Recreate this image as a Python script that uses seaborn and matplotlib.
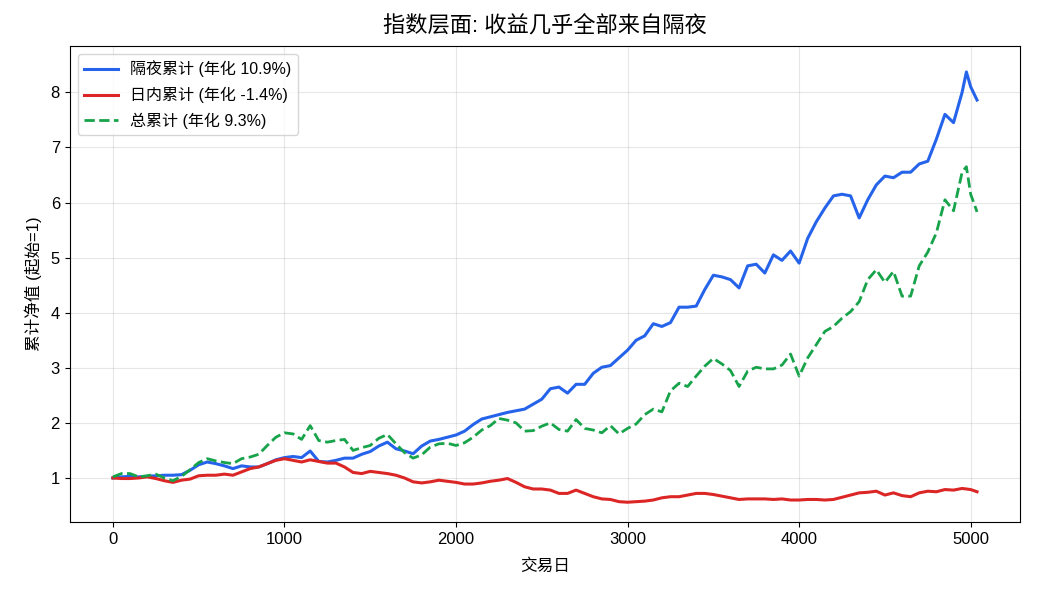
import matplotlib
matplotlib.use("Agg")
import matplotlib.pyplot as plt
import seaborn as sns
import pandas as pd

days = list(range(0, 4951, 50)) + [4975, 5000, 5037]

overnight = [
    1.00, 1.02, 1.03, 1.02, 1.03, 1.04, 1.05, 1.05, 1.06, 1.14,
    1.24, 1.29, 1.26, 1.22, 1.17, 1.22, 1.20, 1.20, 1.26, 1.33,
    1.37, 1.39, 1.37, 1.49, 1.30, 1.29, 1.32, 1.36, 1.36, 1.43,
    1.48, 1.58, 1.65, 1.53, 1.49, 1.44, 1.58, 1.67, 1.70, 1.74,
    1.78, 1.85, 1.97, 2.07, 2.11, 2.15, 2.19, 2.22, 2.25, 2.34,
    2.43, 2.62, 2.65, 2.54, 2.70, 2.70, 2.90, 3.01, 3.04, 3.18,
    3.32, 3.50, 3.58, 3.80, 3.75, 3.82, 4.10, 4.10, 4.12, 4.42,
    4.68, 4.65, 4.60, 4.45, 4.85, 4.88, 4.72, 5.05, 4.95, 5.12,
    4.90, 5.35, 5.65, 5.90, 6.12, 6.15, 6.12, 5.72, 6.05, 6.32,
    6.48, 6.45, 6.55, 6.55, 6.70, 6.75, 7.15, 7.60, 7.45, 8.00,
    8.37, 8.10, 7.86,
]

intraday = [
    1.00, 0.99, 0.99, 1.00, 1.02, 0.99, 0.95, 0.92, 0.96, 0.98,
    1.04, 1.05, 1.05, 1.07, 1.05, 1.11, 1.17, 1.20, 1.26, 1.32,
    1.35, 1.32, 1.29, 1.33, 1.30, 1.27, 1.27, 1.20, 1.10, 1.08,
    1.12, 1.10, 1.08, 1.05, 1.00, 0.93, 0.91, 0.93, 0.96, 0.94,
    0.92, 0.89, 0.89, 0.91, 0.94, 0.96, 0.99, 0.92, 0.84, 0.80,
    0.80, 0.78, 0.72, 0.72, 0.78, 0.72, 0.66, 0.62, 0.61, 0.57,
    0.56, 0.57, 0.58, 0.60, 0.64, 0.66, 0.66, 0.69, 0.72, 0.72,
    0.70, 0.67, 0.64, 0.61, 0.62, 0.62, 0.62, 0.61, 0.62, 0.60,
    0.60, 0.61, 0.61, 0.60, 0.61, 0.65, 0.69, 0.73, 0.74, 0.76,
    0.69, 0.73, 0.68, 0.66, 0.73, 0.76, 0.75, 0.79, 0.78, 0.81,
    0.80, 0.79, 0.75,
]

total = [
    1.02, 1.08, 1.08, 1.02, 1.04, 1.07, 1.00, 0.95, 1.03, 1.15,
    1.28, 1.35, 1.31, 1.28, 1.26, 1.35, 1.38, 1.43, 1.59, 1.74,
    1.82, 1.80, 1.70, 1.95, 1.68, 1.65, 1.68, 1.70, 1.50, 1.55,
    1.59, 1.72, 1.79, 1.62, 1.46, 1.36, 1.42, 1.56, 1.62, 1.63,
    1.59, 1.64, 1.74, 1.87, 1.95, 2.08, 2.05, 2.00, 1.85, 1.86,
    1.94, 2.00, 1.88, 1.85, 2.06, 1.90, 1.87, 1.82, 1.95, 1.80,
    1.90, 1.98, 2.15, 2.25, 2.20, 2.58, 2.72, 2.66, 2.85, 3.03,
    3.17, 3.07, 2.95, 2.66, 2.94, 3.01, 2.98, 2.98, 3.05, 3.25,
    2.85, 3.18, 3.42, 3.66, 3.75, 3.90, 4.02, 4.20, 4.60, 4.78,
    4.55, 4.75, 4.30, 4.30, 4.85, 5.10, 5.45, 6.05, 5.85, 6.55,
    6.65, 6.15, 5.83,
]

labels = ["隔夜累计 (年化 10.9%)", "日内累计 (年化 -1.4%)", "总累计 (年化 9.3%)"]

plt.rcParams['font.family'] = ['Liberation Sans', 'Noto Sans CJK SC']
plt.rcParams['axes.unicode_minus'] = False

df = pd.DataFrame({'day': days, 'overnight': overnight, 'intraday': intraday, 'total': total})

fig, ax = plt.subplots(figsize=(10.4, 5.98), dpi=100)
sns.lineplot(data=df, x='day', y='overnight', color='#2563eb', linewidth=2.2, label=labels[0], ax=ax)
sns.lineplot(data=df, x='day', y='intraday', color='#dc2626', linewidth=2.2, label=labels[1], ax=ax)
sns.lineplot(data=df, x='day', y='total', color='#16a34a', linewidth=2, linestyle='--', label=labels[2], ax=ax)

ax.set_title("指数层面: 收益几乎全部来自隔夜", fontsize=16, pad=10)
ax.set_xlabel("交易日", fontsize=12, labelpad=8)
ax.set_ylabel("累计净值 (起始=1)", fontsize=12, labelpad=6)
ax.tick_params(labelsize=12)
ax.set_ylim(0.2, 8.84)
ax.grid(True, alpha=0.3)
ax.legend(loc='upper left', fontsize=11.5, labelspacing=0.6, handlelength=2.1)

fig.subplots_adjust(left=0.067, right=0.981, top=0.923, bottom=0.127)
fig.savefig("out.png", dpi=100)
